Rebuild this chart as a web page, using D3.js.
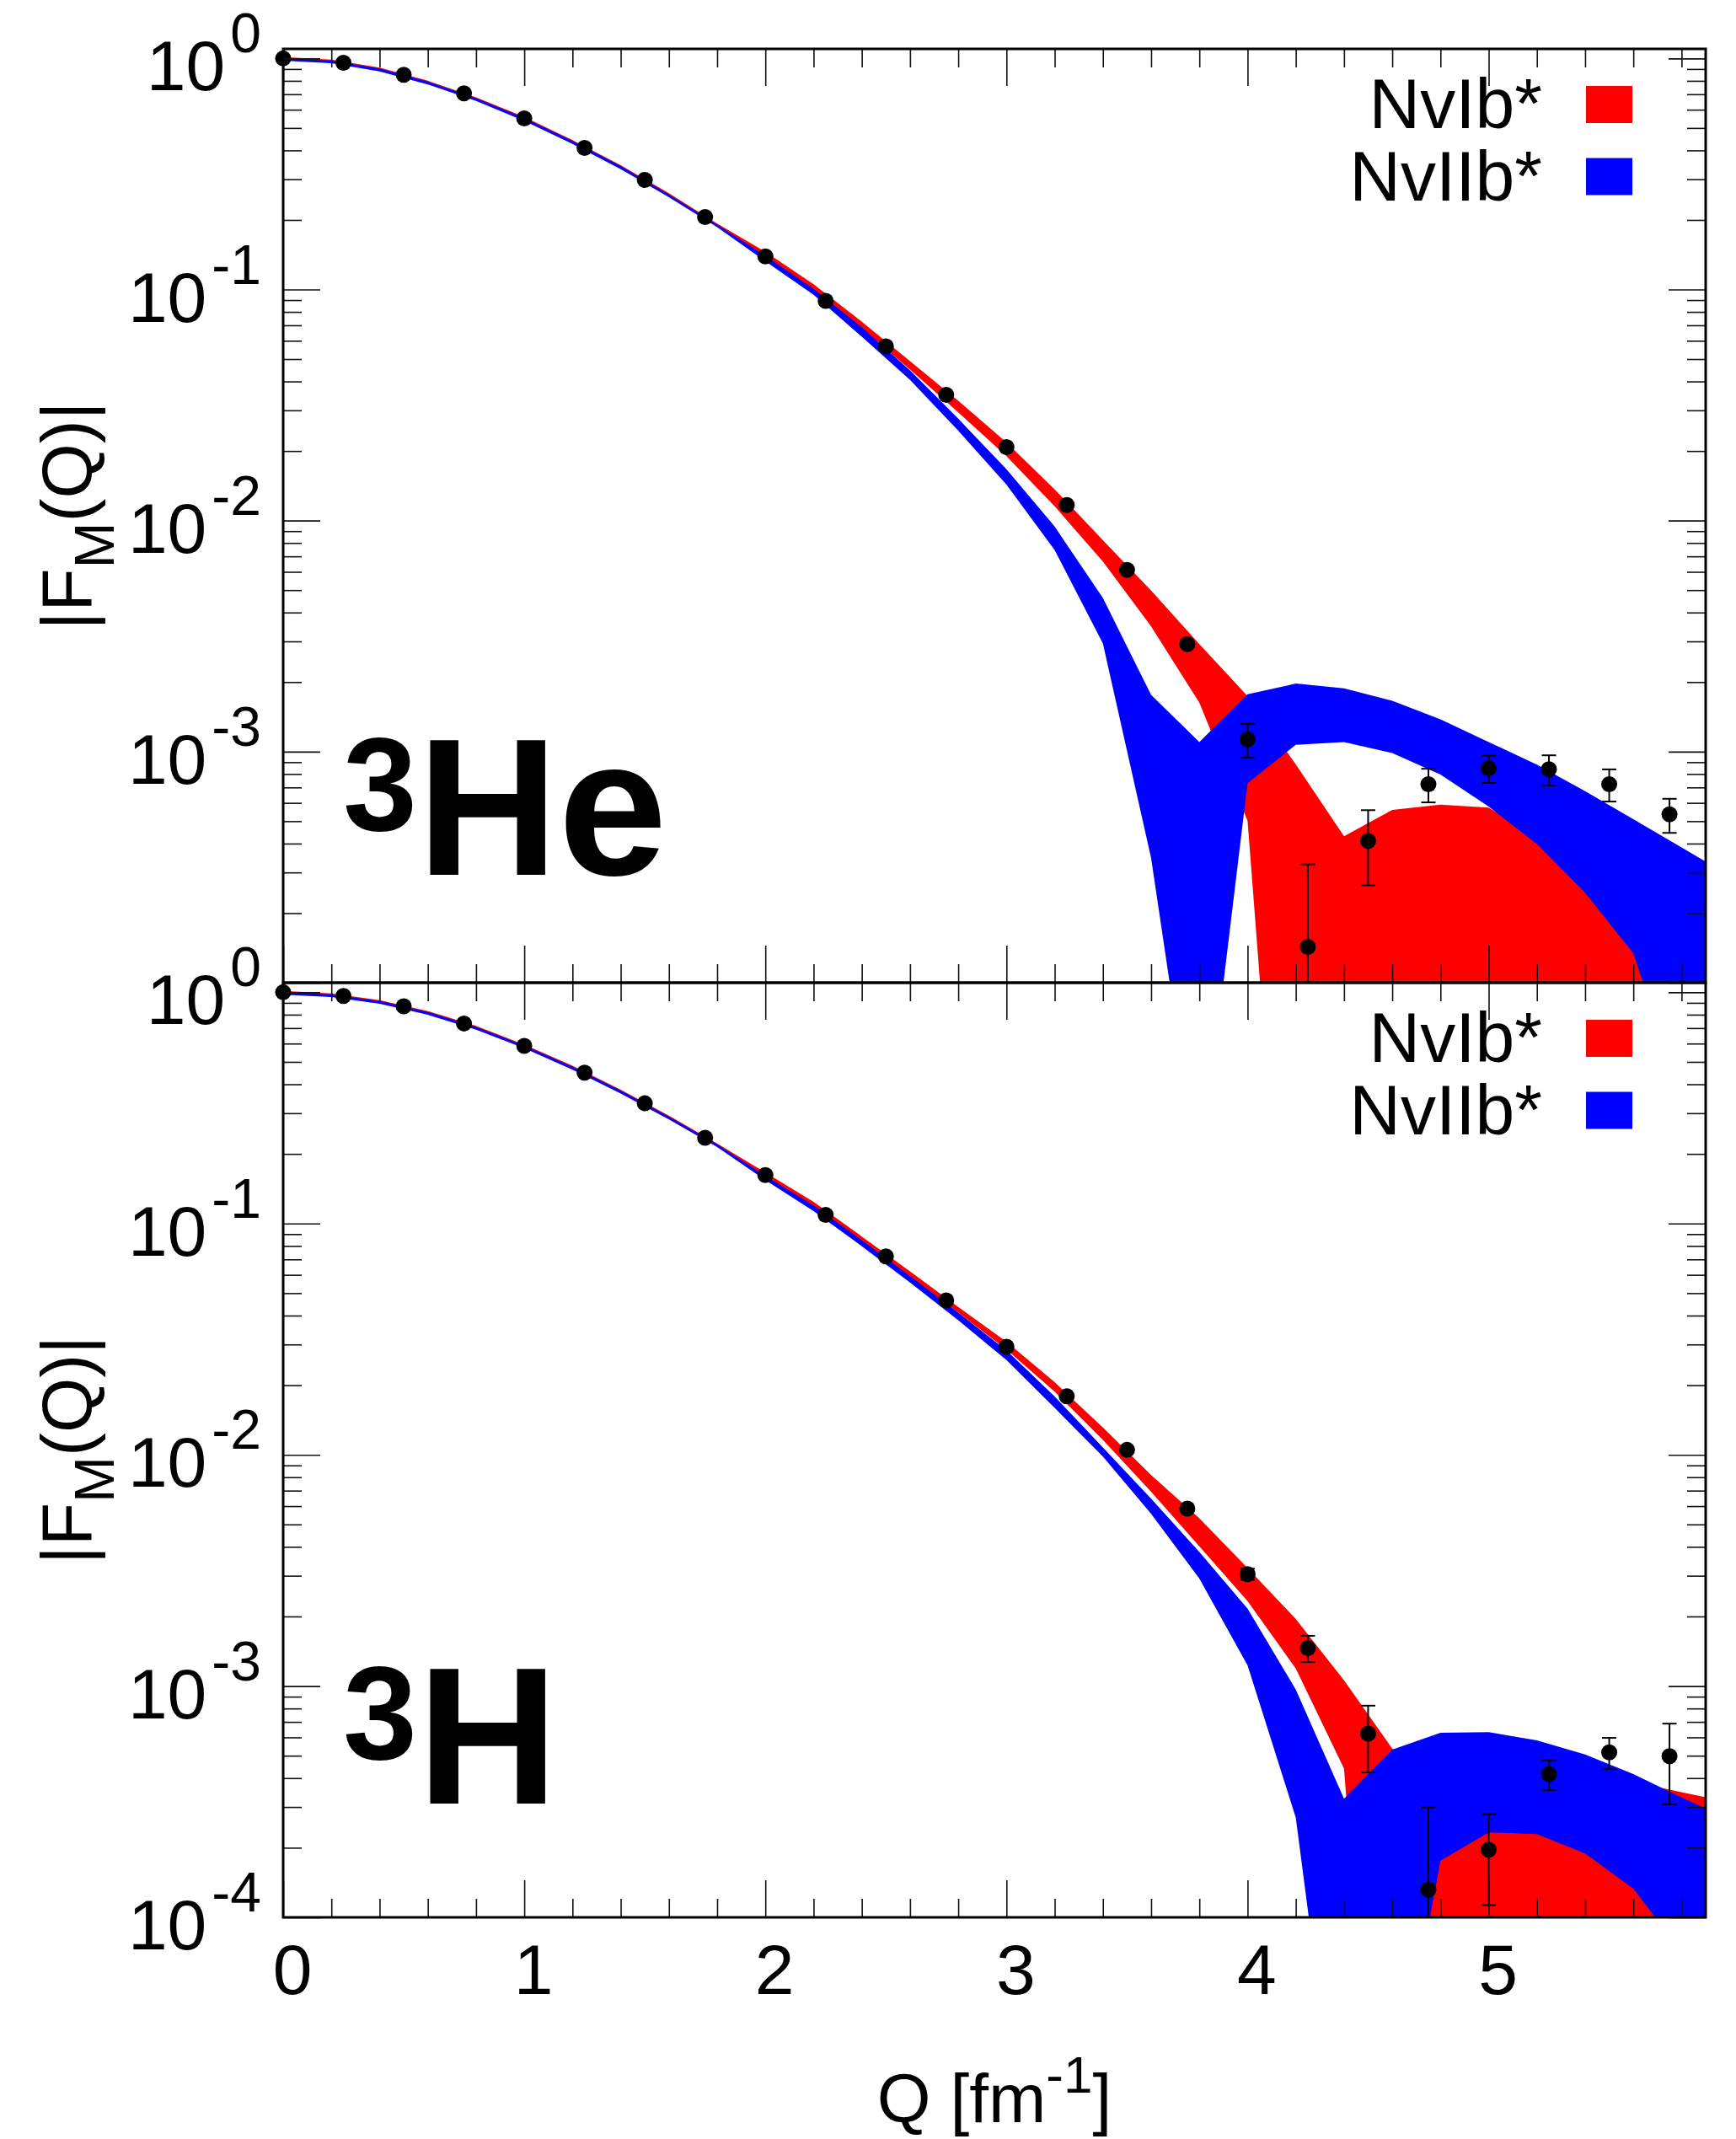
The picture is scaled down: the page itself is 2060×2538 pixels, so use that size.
<!DOCTYPE html>
<html>
<head>
<meta charset="utf-8">
<script src="https://cdn.jsdelivr.net/npm/d3@7"></script>
<style>
  html, body { margin: 0; padding: 0; background: #fff; }
  svg { display: block; font-family: "Liberation Sans", Arial, Helvetica, sans-serif; }
</style>
</head>
<body>
<svg id="chart" width="2060" height="2538"></svg>
<script>
// ---------------------------------------------------------------
// Magnetic form factors |F_M(Q)| of 3He and 3H: theory bands for
// two interaction models and experimental points with error bars.
// ---------------------------------------------------------------

// Momentum grid of the theory bands (fm^-1)
const bandQ = [0, 0.2, 0.4, 0.6, 0.8, 1.0, 1.2, 1.4, 1.6, 1.8, 2.0, 2.2, 2.4, 2.6, 2.8, 3.0,
               3.2, 3.4, 3.6, 3.8, 4.0, 4.2, 4.4, 4.6, 4.8, 5.0, 5.2, 5.4, 5.6, 5.8, 6.0];

// 3He, NvIb* band (upper / lower edge)
const he3RedHi = [1.014, 0.989, 0.913, 0.801, 0.679, 0.558, 0.443, 0.345, 0.261, 0.193,
                  0.1455, 0.1054, 0.0726, 0.0490, 0.0330, 0.0218, 0.01365, 0.00822, 0.00498, 0.00292,
                  0.00174, 8.8e-4, 4.3e-4, 5.6e-4, 5.9e-4, 5.73e-4, 4.27e-4, 2.63e-4, 1.41e-4, 4.5e-5, 1e-5];
const he3RedLo = [0.991, 0.966, 0.892, 0.783, 0.664, 0.545, 0.433, 0.337, 0.255, 0.189,
                  0.139, 0.100, 0.0679, 0.0450, 0.0294, 0.0190, 0.01153, 0.00665, 0.00348, 0.00163,
                  5.02e-4, 1e-6, 1e-6, 1e-6, 1e-6, 1e-6, 1e-6, 1e-6, 1e-6, 1e-6, 1e-6];
// 3He, NvIIb* band
const he3BlueHi = [1.005, 0.979, 0.904, 0.794, 0.673, 0.553, 0.439, 0.342, 0.258, 0.191,
                   0.140, 0.1007, 0.0687, 0.0447, 0.0276, 0.01667, 0.00942, 0.00462, 0.00176, 0.0011,
                   0.00177, 0.00197, 0.00188, 0.00166, 0.00138, 0.0011, 8.79e-4, 6.75e-4, 5.1e-4, 3.85e-4, 2.9e-4];
const he3BlueLo = [0.977, 0.953, 0.879, 0.772, 0.655, 0.537, 0.427, 0.332, 0.251, 0.186,
                   0.1324, 0.0948, 0.0625, 0.0406, 0.0245, 0.01432, 0.00745, 0.00294, 3.46e-4, 1.37e-5,
                   7.3e-4, 1.07e-3, 1.1e-3, 9.86e-4, 7.96e-4, 5.78e-4, 3.98e-4, 2.45e-4, 1.34e-4, 3.2e-5, 1e-5];

// 3H, NvIb* band
const h3RedHi = [1.014, 0.989, 0.925, 0.829, 0.715, 0.594, 0.481, 0.379, 0.293, 0.222,
                 0.166, 0.1242, 0.0879, 0.0621, 0.0436, 0.0308, 0.0206, 0.01312, 0.00817, 0.00532,
                 0.00324, 0.00195, 0.00106, 5.37e-4, 3.6e-4, 4.0e-4, 4.1e-4, 4.0e-4, 3.85e-4, 3.48e-4, 3.14e-4];
const h3RedLo = [0.991, 0.966, 0.904, 0.811, 0.699, 0.581, 0.470, 0.371, 0.286, 0.217,
                 0.160, 0.1186, 0.0839, 0.0589, 0.0412, 0.0285, 0.01875, 0.01161, 0.00692, 0.00402,
                 0.00233, 0.00119, 4.4e-4, 1e-6, 1e-6, 1e-6, 1e-6, 1e-6, 1e-6, 1e-6, 1e-6];
// 3H, NvIIb* band
const h3BlueHi = [1.005, 0.979, 0.916, 0.822, 0.708, 0.589, 0.476, 0.376, 0.290, 0.220,
                  0.1607, 0.1197, 0.0847, 0.0593, 0.0412, 0.0283, 0.01786, 0.01076, 0.00646, 0.0038,
                  0.00216, 9.66e-4, 3.26e-4, 5.31e-4, 6.28e-4, 6.32e-4, 5.83e-4, 5.06e-4, 4.16e-4, 3.30e-4, 2.65e-4];
const h3BlueLo = [0.977, 0.953, 0.891, 0.799, 0.689, 0.573, 0.463, 0.365, 0.282, 0.214,
                  0.1542, 0.1132, 0.0798, 0.0556, 0.0382, 0.0257, 0.01596, 0.00982, 0.00556, 0.00292,
                  0.00123, 2.7e-4, 6.8e-6, 1.35e-5, 1.76e-4, 2.33e-4, 2.29e-4, 1.89e-4, 1.33e-4, 7.1e-5, 3.2e-5];

// Experimental points
const dataQ = [0, 0.25, 0.5, 0.75, 1.0, 1.25, 1.5, 1.75, 2.0, 2.25, 2.5, 2.75,
               3.0, 3.25, 3.5, 3.75, 4.0, 4.25, 4.5, 4.75, 5.0, 5.25, 5.5, 5.75];
const he3F = [1.0, 0.957, 0.849, 0.706, 0.55, 0.41, 0.298, 0.206, 0.139, 0.0893, 0.0567, 0.035,
              0.0208, 0.01167, 0.00612, 0.00292, 0.00113, 1.43e-4, 4.11e-4, 7.23e-4, 8.47e-4, 8.39e-4, 7.23e-4, 5.35e-4];
const he3Err = [0, 0, 0, 0, 0, 0, 0, 0, 0, 0, 0, 0,
                0, 0, 0, 9e-5, 1.9e-4, 1.82e-4, 1.47e-4, 1.2e-4, 1.15e-4, 1.25e-4, 1.15e-4, 0.9e-4];
const h3F = [1.0, 0.964, 0.87, 0.733, 0.586, 0.449, 0.331, 0.235, 0.162, 0.109, 0.0721, 0.0465,
             0.0293, 0.0179, 0.0105, 0.00585, 0.00305, 0.00146, 6.23e-4, 1.32e-4, 1.96e-4, 4.16e-4, 5.17e-4, 4.98e-4];
const h3Err = [0, 0, 0, 0, 0, 0, 0, 0, 0, 0, 0, 0,
               0, 0, 0, 0, 1.7e-4, 1.9e-4, 2.0e-4, 1.67e-4, 0.83e-4, 0.61e-4, 0.8e-4, 1.9e-4];

// Axis ticks and labels
const xMajorTicks = [0, 1, 2, 3, 4, 5];
const xTickLabels = ["0", "1", "2", "3", "4", "5"];
const yMajorTicks = [1, 0.1, 0.01, 0.001, 0.0001];
const yTickExponents = ["0", "-1", "-2", "-3", "-4"];
const seriesNames = ["NvIb*", "NvIIb*"];
const seriesColors = ["#ff0000", "#0000ff"];

// ---------------------------------------------------------------
const svg = d3.select("#chart");
svg.append("rect").attr("width", 2060).attr("height", 2538).attr("fill", "#fff");

const plotLeft = 336, plotRight = 2024;
const x = d3.scaleLinear().domain([0, 5.9]).range([plotLeft, plotRight]);

const xMinorTicks = d3.range(1, 30).map(i => i * 0.2).filter(v => Math.abs(v - Math.round(v)) > 1e-6);
const yMinorTicks = [];
for (let e = -4; e <= -1; e++) for (let m = 2; m <= 9; m++) yMinorTicks.push(m * Math.pow(10, e));

const panels = [
  { id: "he3", top: 58, bottom: 1166, nucleus: ["3", "He"], labelBase: 1038,
    bands: [[he3RedLo, he3RedHi], [he3BlueLo, he3BlueHi]], F: he3F, err: he3Err,
    yLabels: [0, 1, 2, 3] },
  { id: "h3", top: 1166, bottom: 2275, nucleus: ["3", "H"], labelBase: 2140,
    bands: [[h3RedLo, h3RedHi], [h3BlueLo, h3BlueHi]], F: h3F, err: h3Err,
    yLabels: [0, 1, 2, 3, 4] }
];

const tickStroke = "#111";

panels.forEach(p => {
  const y = d3.scaleLog().domain([1e-4, 1.1]).range([p.bottom, p.top]);
  const g = svg.append("g").attr("class", "panel-" + p.id);

  const clipId = "clip-" + p.id;
  svg.append("defs").append("clipPath").attr("id", clipId)
    .append("rect").attr("x", plotLeft).attr("y", p.top)
    .attr("width", plotRight - plotLeft).attr("height", p.bottom - p.top);

  // Theory bands (NvIb* first, NvIIb* drawn over it)
  const idx = d3.range(bandQ.length);
  const bandG = g.append("g").attr("clip-path", `url(#${clipId})`);
  p.bands.forEach((b, k) => {
    const [lo, hi] = b;
    const area = d3.area()
      .x(i => x(bandQ[i]))
      .y0(i => y(lo[i]))
      .y1(i => y(hi[i]))
      .curve(d3.curveLinear);
    bandG.append("path").datum(idx)
      .attr("d", area)
      .attr("fill", seriesColors[k])
      .attr("stroke", "none");
  });

  // Error bars
  const errG = g.append("g").attr("clip-path", `url(#${clipId})`);
  dataQ.forEach((q, i) => {
    const e = p.err[i];
    if (!e) return;
    const cx = x(q);
    const yHi = y(p.F[i] + e);
    const loVal = p.F[i] - e;
    const yLo = loVal > 0 ? y(loVal) : p.bottom + 50;
    errG.append("line").attr("x1", cx).attr("x2", cx).attr("y1", yHi).attr("y2", yLo)
      .attr("stroke", "#000").attr("stroke-width", 2);
    errG.append("line").attr("x1", cx - 8.5).attr("x2", cx + 8.5).attr("y1", yHi).attr("y2", yHi)
      .attr("stroke", "#000").attr("stroke-width", 2);
    if (loVal > 0) {
      errG.append("line").attr("x1", cx - 8.5).attr("x2", cx + 8.5).attr("y1", yLo).attr("y2", yLo)
        .attr("stroke", "#000").attr("stroke-width", 2);
    }
  });

  // Data markers
  g.append("g").selectAll("circle").data(dataQ).join("circle")
    .attr("cx", d => x(d))
    .attr("cy", (d, i) => y(p.F[i]))
    .attr("r", 9.5)
    .attr("fill", "#000");

  // Ticks on all four sides, pointing inward
  const styleAxis = sel => {
    sel.select(".domain").remove();
    sel.selectAll(".tick line").attr("stroke", tickStroke).attr("stroke-width", 1.6);
    sel.selectAll(".tick text").remove();
  };
  g.append("g").attr("transform", `translate(${plotLeft},0)`)
    .call(d3.axisLeft(y).tickValues(yMajorTicks).tickSize(-44)).call(styleAxis);
  g.append("g").attr("transform", `translate(${plotLeft},0)`)
    .call(d3.axisLeft(y).tickValues(yMinorTicks).tickSize(-22)).call(styleAxis);
  g.append("g").attr("transform", `translate(${plotRight},0)`)
    .call(d3.axisRight(y).tickValues(yMajorTicks).tickSize(-44)).call(styleAxis);
  g.append("g").attr("transform", `translate(${plotRight},0)`)
    .call(d3.axisRight(y).tickValues(yMinorTicks).tickSize(-22)).call(styleAxis);
  g.append("g").attr("transform", `translate(0,${p.top})`)
    .call(d3.axisTop(x).tickValues(xMajorTicks).tickSize(-44)).call(styleAxis);
  g.append("g").attr("transform", `translate(0,${p.top})`)
    .call(d3.axisTop(x).tickValues(xMinorTicks).tickSize(-22)).call(styleAxis);
  g.append("g").attr("transform", `translate(0,${p.bottom})`)
    .call(d3.axisBottom(x).tickValues(xMajorTicks).tickSize(-44)).call(styleAxis);
  g.append("g").attr("transform", `translate(0,${p.bottom})`)
    .call(d3.axisBottom(x).tickValues(xMinorTicks).tickSize(-22)).call(styleAxis);

  // Frame
  g.append("rect")
    .attr("x", plotLeft).attr("y", p.top)
    .attr("width", plotRight - plotLeft).attr("height", p.bottom - p.top)
    .attr("fill", "none").attr("stroke", "#000").attr("stroke-width", 3);

  // Y tick labels: 10^n
  p.yLabels.forEach(k => {
    const ty = y(yMajorTicks[k]);
    const t = g.append("text")
      .attr("x", 310).attr("y", ty + 38)
      .attr("text-anchor", "end")
      .attr("font-size", 84)
      .attr("fill", "#000");
    t.append("tspan").text("10");
    t.append("tspan").attr("dx", 6).attr("dy", -45).attr("font-size", 66).text(yTickExponents[k]);
  });

  // Y axis title |F_M(Q)|
  const cy = (p.top + p.bottom) / 2;
  const yt = g.append("text")
    .attr("transform", `translate(108,${cy}) rotate(-90)`)
    .attr("text-anchor", "middle")
    .attr("font-size", 84)
    .attr("fill", "#000");
  yt.append("tspan").text("|F");
  yt.append("tspan").attr("dy", 27).attr("font-size", 66).text("M");
  yt.append("tspan").attr("dy", -27).text("(Q)|");

  // Nucleus label
  const nl = g.append("text")
    .attr("x", 407).attr("y", p.labelBase)
    .attr("font-weight", "bold").attr("fill", "#000");
  nl.append("tspan").attr("font-size", 158).attr("dy", -53).text(p.nucleus[0]);
  nl.append("tspan").attr("font-size", 232).attr("dy", 53).text(p.nucleus[1]);

  // Legend
  seriesNames.forEach((name, k) => {
    const base = p.top + 94 + k * 85.5;
    g.append("text")
      .attr("x", 1830).attr("y", base)
      .attr("text-anchor", "end")
      .attr("font-size", 84)
      .attr("fill", "#000")
      .text(name);
    g.append("rect")
      .attr("x", 1882).attr("y", base - 50)
      .attr("width", 55).attr("height", 44)
      .attr("fill", seriesColors[k]);
  });

  // X tick labels and title only below the lower panel
  if (p.id === "h3") {
    xMajorTicks.forEach((v, i) => {
      g.append("text")
        .attr("x", x(v) + 11).attr("y", 2366)
        .attr("text-anchor", "middle")
        .attr("font-size", 84)
        .attr("fill", "#000")
        .text(xTickLabels[i]);
    });
    const xt = g.append("text")
      .attr("x", (plotLeft + plotRight) / 2).attr("y", 2518)
      .attr("text-anchor", "middle")
      .attr("font-size", 82)
      .attr("fill", "#000");
    xt.append("tspan").text("Q [fm");
    xt.append("tspan").attr("dy", -35).attr("font-size", 62).text("-1");
    xt.append("tspan").attr("dy", 35).text("]");
  }
});
</script>
</body>
</html>
